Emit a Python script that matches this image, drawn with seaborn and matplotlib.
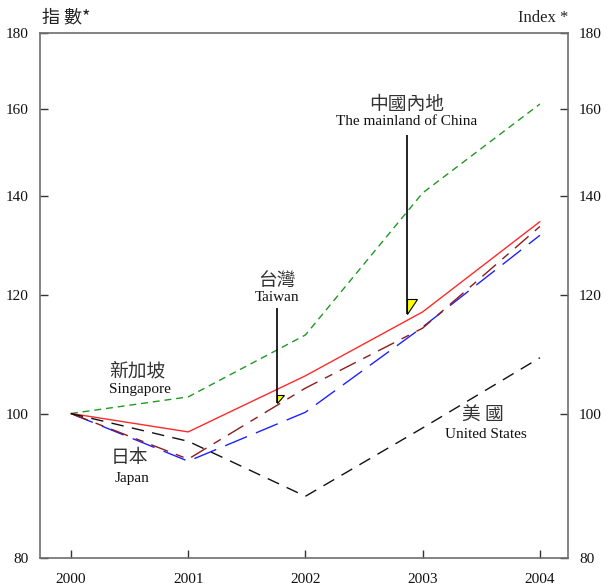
import matplotlib
matplotlib.use("Agg")
import matplotlib.pyplot as plt
import matplotlib.transforms as mtransforms
from matplotlib.patches import Polygon
from matplotlib.ticker import FixedLocator, FixedFormatter, NullLocator
import numpy as np
import pandas as pd
import seaborn as sns

# ---- data (index) ----
years = [2000, 2001, 2002, 2003, 2004]
singapore = [100, 102.6, 112.9, 140.6, 161.3]
china = [100, 97.2, 106.0, 117.0, 134.5]
japan = [100, 92.9, 100.2, 114.3, 131.7]
taiwan = [100, 93.2, 104.0, 114.1, 133.5]
united_states = [100, 95.8, 88.0, 97.8, 109.0]
y_ticks = [80, 100, 120, 140, 160, 180]
x_labels = ["2000", "2001", "2002", "2003", "2004"]

series_names = ["Singapore", "China", "Japan", "Taiwan", "United States"]
series_values = [singapore, china, japan, taiwan, united_states]

df = pd.DataFrame({
    "year": np.tile(years, len(series_names)),
    "value": np.concatenate(series_values),
    "series": np.repeat(series_names, len(years)),
})

palette = {
    "Singapore": "#1f9a1f",
    "China": "#ff2a2a",
    "Japan": "#2020ff",
    "Taiwan": "#8b1c1c",
    "United States": "#111111",
}
dashes = {
    "Singapore": (5, 3.5),
    "China": "",
    "Japan": (17, 7),
    "Taiwan": (13, 6, 6, 6),
    "United States": (9, 6),
}

sns.set_theme(style="white")
plt.rcParams["font.family"] = ["Liberation Serif", "Noto Sans CJK TC", "DejaVu Sans"]

fig = plt.figure(figsize=(6.15, 5.85), dpi=100)
ax = fig.add_axes([0.065, 0.0462, 0.8585, 0.8974])

sns.lineplot(data=df, x="year", y="value", hue="series", style="series",
             palette=palette, dashes=dashes, linewidth=1.0, legend=False,
             ax=ax, sort=False)

ax.set_yscale("log")
ax.set_ylim(80, 180)
ax.set_xlim(1999.736, 2004.239)
ax.yaxis.set_major_locator(FixedLocator(y_ticks))
ax.yaxis.set_major_formatter(FixedFormatter([str(v) for v in y_ticks]))
ax.yaxis.set_minor_locator(NullLocator())
ax.set_xticks(years)
ax.set_xticklabels(x_labels)
ax.set_xlabel("")
ax.set_ylabel("")

for s in ax.spines.values():
    s.set_visible(True)
    s.set_color("#6e6e6e")
    s.set_linewidth(1.2)

ax.tick_params(axis="y", which="major", direction="in", length=6, width=1.0,
               color="#333333", left=True, right=True, labelleft=True,
               labelright=True, labelsize=11, pad=8, labelcolor="#111111")
ax.tick_params(axis="x", which="major", direction="in", length=6, width=1.0,
               color="#333333", bottom=True, labelsize=11, pad=11,
               labelcolor="#111111")

# ---- axis titles ----
fig.text(0.069, 0.955, "指 數*", fontsize=13, ha="left", va="bottom",
         color="#222222", family=["Noto Sans CJK TC", "DejaVu Sans"])
fig.text(0.925, 0.955, "Index *", fontsize=12, ha="right", va="bottom",
         color="#222222")

cjk_font = ["Noto Sans CJK TC", "DejaVu Sans"]

def two_line(x_cjk, x_eng, y_top, y_bot, cjk, eng, cjk_size=13.5, eng_size=11):
    ax.text(x_cjk, y_top, cjk, ha="center", va="center", fontsize=cjk_size,
            color="#333333", family=cjk_font)
    ax.text(x_eng, y_bot, eng, ha="center", va="center", fontsize=eng_size,
            color="#111111")

two_line(2002.86, 2002.86, 161.3, 156.9, "中國內地", "The mainland of China")
two_line(2001.76, 2001.76, 122.8, 119.6, "台灣", "Taiwan")
two_line(2000.57, 2000.59, 106.8, 103.8, "新加坡", "Singapore")
two_line(2000.50, 2000.52, 93.5, 90.4, "日本", "Japan")
two_line(2003.51, 2003.54, 99.7, 96.8, "美 國", "United States")

# ---- pointer arrows with yellow half-heads ----
def pointer(x, y_start, y_tip, head_w, head_h):
    ax.plot([x, x], [y_start, y_tip], color="black", linewidth=1.2,
            solid_capstyle="butt")
    tr = fig.dpi_scale_trans + mtransforms.ScaledTranslation(x, y_tip, ax.transData)
    tri = Polygon([(0, 0), (0, head_h), (head_w, head_h)], closed=True,
                  facecolor="#ffff00", edgecolor="black", linewidth=0.8,
                  transform=tr, zorder=5)
    ax.add_patch(tri)

pointer(2002.865, 153.8, 116.6, 0.10, 0.15)
pointer(2001.757, 117.7, 101.7, 0.07, 0.08)

fig.savefig("out.png", dpi=100)
